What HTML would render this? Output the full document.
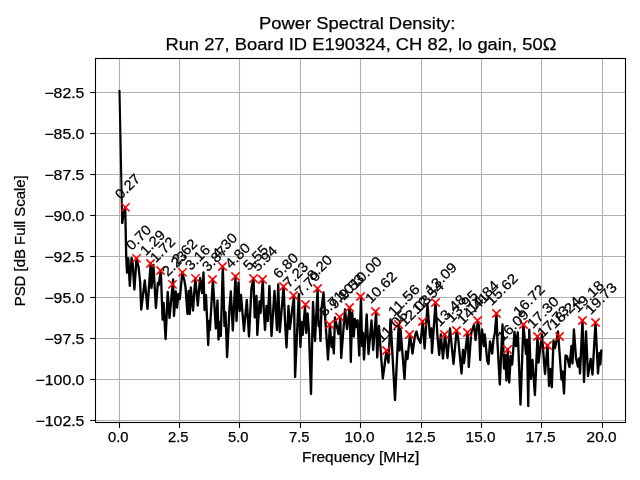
<!DOCTYPE html>
<html><head><meta charset="utf-8"><title>PSD</title>
<style>
html,body{margin:0;padding:0;background:#fff;}
body{width:640px;height:480px;overflow:hidden;font-family:"Liberation Sans",sans-serif;}
svg{display:block;will-change:transform}
text{font-family:"Liberation Sans",sans-serif;fill:#000;stroke:#000;stroke-width:0.25px}
</style></head><body>
<svg width="640" height="480" viewBox="0 0 640 480">
<rect x="0" y="0" width="640" height="480" fill="#ffffff"/>

<g stroke="#b0b0b0" stroke-width="1.1" fill="none">
<line x1="119.5" y1="58.5" x2="119.5" y2="422.5"/>
<line x1="179.5" y1="58.5" x2="179.5" y2="422.5"/>
<line x1="239.5" y1="58.5" x2="239.5" y2="422.5"/>
<line x1="300.5" y1="58.5" x2="300.5" y2="422.5"/>
<line x1="360.5" y1="58.5" x2="360.5" y2="422.5"/>
<line x1="421.5" y1="58.5" x2="421.5" y2="422.5"/>
<line x1="481.5" y1="58.5" x2="481.5" y2="422.5"/>
<line x1="541.5" y1="58.5" x2="541.5" y2="422.5"/>
<line x1="602.5" y1="58.5" x2="602.5" y2="422.5"/>
<line x1="95.5" y1="92.5" x2="625.5" y2="92.5"/>
<line x1="95.5" y1="133.5" x2="625.5" y2="133.5"/>
<line x1="95.5" y1="174.5" x2="625.5" y2="174.5"/>
<line x1="95.5" y1="215.5" x2="625.5" y2="215.5"/>
<line x1="95.5" y1="256.5" x2="625.5" y2="256.5"/>
<line x1="95.5" y1="297.5" x2="625.5" y2="297.5"/>
<line x1="95.5" y1="338.5" x2="625.5" y2="338.5"/>
<line x1="95.5" y1="379.5" x2="625.5" y2="379.5"/>
<line x1="95.5" y1="420.5" x2="625.5" y2="420.5"/>
</g>
<clipPath id="c"><rect x="95.5" y="58.5" width="530.0" height="364.0"/></clipPath>
<polyline clip-path="url(#c)" points="119.50,91.00 122.20,222.60" fill="none" stroke="#000" stroke-width="2.1" stroke-linejoin="round" stroke-linecap="square"/>
<polyline clip-path="url(#c)" points="122.20,222.60 123.20,215.50 124.20,211.50 125.20,207.40 126.20,256.00 127.00,272.70 128.30,258.30 129.80,285.90 131.60,257.90 132.60,263.00 134.40,289.50 136.50,258.30 138.60,267.50 140.20,283.00 141.20,309.50 144.80,280.50 147.50,308.80 150.60,263.40 151.50,288.00 153.40,264.90 155.90,308.00 157.80,283.00 158.70,285.00 160.80,270.40 162.60,319.50 163.60,303.00 165.60,339.00 167.70,292.00 169.50,318.00 173.10,279.50 174.00,316.00 175.80,291.50 177.00,307.50 178.50,294.00 179.80,299.00 182.30,272.50 184.50,281.00 185.50,287.00 187.50,314.00 188.60,291.00 189.80,314.00 190.80,287.50 193.00,310.50 195.30,278.30 197.80,305.50 200.00,278.00 202.00,293.00 203.50,272.50 204.50,310.00 206.00,295.00 208.20,345.00 209.10,321.00 209.90,330.00 212.90,279.50 215.80,328.50 217.50,300.50 218.50,339.50 219.50,322.00 220.80,336.00 222.80,266.50 224.50,326.00 225.50,312.50 227.10,357.00 229.50,308.00 230.80,291.50 232.80,330.50 235.50,276.50 236.50,321.00 238.50,282.50 239.70,311.00 241.00,295.00 244.00,331.00 246.80,300.00 249.00,336.50 251.50,288.00 253.50,278.50 254.70,317.50 256.50,296.00 257.30,335.00 259.50,301.50 260.50,313.00 262.80,279.30 263.70,308.00 265.00,330.00 266.50,306.00 267.80,321.00 269.40,286.00 271.50,336.00 274.50,291.00 277.00,330.00 278.20,284.50 279.80,332.00 283.60,286.30 285.00,321.00 286.50,347.50 288.50,306.00 289.80,329.00 294.00,295.50 295.10,377.00 298.80,294.00 300.40,347.00 301.50,322.00 302.70,335.00 305.00,306.50 306.20,333.00 307.60,313.50 309.00,333.00 311.00,394.00 313.00,302.00 315.00,341.00 317.60,288.50 318.60,326.00 319.50,322.00 320.50,341.00 321.40,310.00 323.50,292.50 328.00,359.50 329.90,324.50 331.50,347.00 332.80,337.50 333.80,353.50 335.00,317.50 338.50,334.00 340.30,317.00 341.20,358.00 345.00,309.50 347.00,329.00 349.70,307.20 350.80,362.00 352.20,312.50 353.80,336.50 355.00,319.00 356.40,327.00 357.60,320.50 359.20,355.50 361.00,296.50 362.00,346.00 363.00,333.00 364.00,359.50 366.70,314.50 368.50,354.00 371.50,320.50 373.20,350.00 376.10,311.50 377.20,357.50 379.00,326.00 380.80,352.00 382.80,378.50 386.40,351.50 388.50,362.50 390.50,319.50 395.00,400.00 398.70,324.50 399.60,350.50 400.50,329.00 404.50,379.00 406.00,351.50 407.50,359.00 410.00,334.50 412.50,353.50 414.80,336.50 416.50,331.50 418.00,338.00 420.50,343.00 422.80,321.50 424.60,348.50 427.50,304.50 430.00,337.00 431.30,328.50 432.00,353.00 435.50,302.50 437.30,334.00 439.20,355.00 440.80,334.50 443.00,358.50 445.00,334.50 447.50,358.00 450.00,328.50 453.50,364.00 456.60,330.50 458.20,338.50 461.50,373.50 463.00,350.00 464.00,363.00 467.60,332.50 468.80,367.00 471.20,333.00 474.00,324.50 475.50,340.00 477.80,322.00 479.00,326.00 480.20,360.00 482.00,329.50 484.00,346.00 484.80,334.50 487.20,360.50 488.50,364.00 490.00,341.50 492.20,353.50 493.40,340.00 494.90,333.00 496.50,313.50 497.40,341.00 499.80,384.50 502.50,324.50 504.00,368.50 505.20,355.00 506.50,380.50 507.80,349.50 509.20,382.50 510.80,356.00 512.20,364.50 514.50,332.00 516.00,346.00 517.80,332.30 520.50,404.60 523.40,324.40 526.00,354.00 527.00,340.00 528.25,406.00 529.25,329.70 530.90,379.00 532.50,360.00 534.90,395.00 537.50,336.40 538.50,362.50 541.90,334.40 545.00,374.00 547.50,345.50 549.00,386.00 550.50,369.00 551.80,387.20 553.50,340.50 555.00,348.00 556.50,341.00 558.00,331.50 561.50,379.50 562.50,371.50 564.00,393.50 565.50,355.50 567.00,356.00 569.50,367.00 571.40,346.00 572.50,363.50 573.90,329.50 576.00,358.00 577.90,366.50 579.00,358.50 580.00,373.50 582.50,320.50 584.00,382.00 586.00,331.50 588.00,376.00 590.70,359.00 592.50,374.50 595.50,322.20 598.00,373.50 599.50,353.00 600.30,364.50 601.30,350.50" fill="none" stroke="#000" stroke-width="2.35" stroke-linejoin="round" stroke-linecap="round"/>
<g stroke="#ff0000" stroke-width="1.55" fill="none" stroke-linecap="butt">
<path d="M121.33 203.23L129.67 211.57M121.33 211.57L129.67 203.23"/>
<path d="M132.33 254.23L140.67 262.57M132.33 262.57L140.67 254.23"/>
<path d="M146.33 259.33L154.67 267.67M146.33 267.67L154.67 259.33"/>
<path d="M156.33 266.33L164.67 274.67M156.33 274.67L164.67 266.33"/>
<path d="M168.33 280.23L176.67 288.57M168.33 288.57L176.67 280.23"/>
<path d="M178.33 268.23L186.67 276.57M178.33 276.57L186.67 268.23"/>
<path d="M191.33 274.23L199.67 282.57M191.33 282.57L199.67 274.23"/>
<path d="M208.33 275.33L216.67 283.67M208.33 283.67L216.67 275.33"/>
<path d="M218.33 262.33L226.67 270.67M218.33 270.67L226.67 262.33"/>
<path d="M231.33 272.33L239.67 280.67M231.33 280.67L239.67 272.33"/>
<path d="M249.33 274.33L257.67 282.67M249.33 282.67L257.67 274.33"/>
<path d="M258.33 275.33L266.67 283.67M258.33 283.67L266.67 275.33"/>
<path d="M279.33 282.33L287.67 290.67M279.33 290.67L287.67 282.33"/>
<path d="M289.33 291.33L297.67 299.67M289.33 299.67L297.67 291.33"/>
<path d="M301.33 300.33L309.67 308.67M301.33 308.67L309.67 300.33"/>
<path d="M313.33 284.33L321.67 292.67M313.33 292.67L321.67 284.33"/>
<path d="M325.33 320.33L333.67 328.67M325.33 328.67L333.67 320.33"/>
<path d="M335.33 312.83L343.67 321.17M335.33 321.17L343.67 312.83"/>
<path d="M345.33 303.33L353.67 311.67M345.33 311.67L353.67 303.33"/>
<path d="M356.33 292.33L364.67 300.67M356.33 300.67L364.67 292.33"/>
<path d="M371.33 307.33L379.67 315.67M371.33 315.67L379.67 307.33"/>
<path d="M382.33 346.33L390.67 354.67M382.33 354.67L390.67 346.33"/>
<path d="M394.33 320.33L402.67 328.67M394.33 328.67L402.67 320.33"/>
<path d="M405.33 330.33L413.67 338.67M405.33 338.67L413.67 330.33"/>
<path d="M418.33 317.33L426.67 325.67M418.33 325.67L426.67 317.33"/>
<path d="M431.33 298.33L439.67 306.67M431.33 306.67L439.67 298.33"/>
<path d="M440.33 330.33L448.67 338.67M440.33 338.67L448.67 330.33"/>
<path d="M452.33 326.33L460.67 334.67M452.33 334.67L460.67 326.33"/>
<path d="M463.33 328.33L471.67 336.67M463.33 336.67L471.67 328.33"/>
<path d="M473.33 316.33L481.67 324.67M473.33 324.67L481.67 316.33"/>
<path d="M492.33 309.33L500.67 317.67M492.33 317.67L500.67 309.33"/>
<path d="M503.33 345.33L511.67 353.67M503.33 353.67L511.67 345.33"/>
<path d="M519.33 320.33L527.67 328.67M519.33 328.67L527.67 320.33"/>
<path d="M533.33 332.33L541.67 340.67M533.33 340.67L541.67 332.33"/>
<path d="M543.33 341.33L551.67 349.67M543.33 349.67L551.67 341.33"/>
<path d="M555.33 332.33L563.67 340.67M555.33 340.67L563.67 332.33"/>
<path d="M578.33 316.33L586.67 324.67M578.33 324.67L586.67 316.33"/>
<path d="M591.33 318.33L599.67 326.67M591.33 326.67L599.67 318.33"/>
</g>
<g font-size="13.9px">
<text transform="translate(120.70 200.10) rotate(-45)" textLength="29.0" lengthAdjust="spacingAndGlyphs">0.27</text>
<text transform="translate(131.70 251.10) rotate(-45)" textLength="29.0" lengthAdjust="spacingAndGlyphs">0.70</text>
<text transform="translate(145.70 256.20) rotate(-45)" textLength="29.0" lengthAdjust="spacingAndGlyphs">1.29</text>
<text transform="translate(155.70 263.20) rotate(-45)" textLength="29.0" lengthAdjust="spacingAndGlyphs">1.72</text>
<text transform="translate(167.70 277.10) rotate(-45)" textLength="29.0" lengthAdjust="spacingAndGlyphs">2.23</text>
<text transform="translate(177.70 265.10) rotate(-45)" textLength="29.0" lengthAdjust="spacingAndGlyphs">2.62</text>
<text transform="translate(190.70 271.10) rotate(-45)" textLength="29.0" lengthAdjust="spacingAndGlyphs">3.16</text>
<text transform="translate(207.70 272.20) rotate(-45)" textLength="29.0" lengthAdjust="spacingAndGlyphs">3.87</text>
<text transform="translate(217.70 259.20) rotate(-45)" textLength="29.0" lengthAdjust="spacingAndGlyphs">4.30</text>
<text transform="translate(230.70 269.20) rotate(-45)" textLength="29.0" lengthAdjust="spacingAndGlyphs">4.80</text>
<text transform="translate(248.70 271.20) rotate(-45)" textLength="29.0" lengthAdjust="spacingAndGlyphs">5.55</text>
<text transform="translate(257.70 272.20) rotate(-45)" textLength="29.0" lengthAdjust="spacingAndGlyphs">5.94</text>
<text transform="translate(278.70 279.20) rotate(-45)" textLength="29.0" lengthAdjust="spacingAndGlyphs">6.80</text>
<text transform="translate(288.70 288.20) rotate(-45)" textLength="29.0" lengthAdjust="spacingAndGlyphs">7.23</text>
<text transform="translate(300.70 297.20) rotate(-45)" textLength="29.0" lengthAdjust="spacingAndGlyphs">7.70</text>
<text transform="translate(312.70 281.20) rotate(-45)" textLength="29.0" lengthAdjust="spacingAndGlyphs">8.20</text>
<text transform="translate(324.70 317.20) rotate(-45)" textLength="29.0" lengthAdjust="spacingAndGlyphs">8.71</text>
<text transform="translate(334.70 309.70) rotate(-45)" textLength="29.0" lengthAdjust="spacingAndGlyphs">9.10</text>
<text transform="translate(344.70 300.20) rotate(-45)" textLength="29.0" lengthAdjust="spacingAndGlyphs">9.53</text>
<text transform="translate(355.70 289.20) rotate(-45)" textLength="38.3" lengthAdjust="spacingAndGlyphs">10.00</text>
<text transform="translate(370.70 304.20) rotate(-45)" textLength="38.3" lengthAdjust="spacingAndGlyphs">10.62</text>
<text transform="translate(381.70 343.20) rotate(-45)" textLength="38.3" lengthAdjust="spacingAndGlyphs">11.05</text>
<text transform="translate(393.70 317.20) rotate(-45)" textLength="38.3" lengthAdjust="spacingAndGlyphs">11.56</text>
<text transform="translate(404.70 327.20) rotate(-45)" textLength="38.3" lengthAdjust="spacingAndGlyphs">12.03</text>
<text transform="translate(417.70 314.20) rotate(-45)" textLength="38.3" lengthAdjust="spacingAndGlyphs">12.54</text>
<text transform="translate(430.70 295.20) rotate(-45)" textLength="38.3" lengthAdjust="spacingAndGlyphs">13.09</text>
<text transform="translate(439.70 327.20) rotate(-45)" textLength="38.3" lengthAdjust="spacingAndGlyphs">13.48</text>
<text transform="translate(451.70 323.20) rotate(-45)" textLength="38.3" lengthAdjust="spacingAndGlyphs">13.95</text>
<text transform="translate(462.70 325.20) rotate(-45)" textLength="38.3" lengthAdjust="spacingAndGlyphs">14.41</text>
<text transform="translate(472.70 313.20) rotate(-45)" textLength="38.3" lengthAdjust="spacingAndGlyphs">14.84</text>
<text transform="translate(491.70 306.20) rotate(-45)" textLength="38.3" lengthAdjust="spacingAndGlyphs">15.62</text>
<text transform="translate(502.70 342.20) rotate(-45)" textLength="38.3" lengthAdjust="spacingAndGlyphs">16.09</text>
<text transform="translate(518.70 317.20) rotate(-45)" textLength="38.3" lengthAdjust="spacingAndGlyphs">16.72</text>
<text transform="translate(532.70 329.20) rotate(-45)" textLength="38.3" lengthAdjust="spacingAndGlyphs">17.30</text>
<text transform="translate(542.70 338.20) rotate(-45)" textLength="38.3" lengthAdjust="spacingAndGlyphs">17.73</text>
<text transform="translate(554.70 329.20) rotate(-45)" textLength="38.3" lengthAdjust="spacingAndGlyphs">18.24</text>
<text transform="translate(577.70 313.20) rotate(-45)" textLength="38.3" lengthAdjust="spacingAndGlyphs">19.18</text>
<text transform="translate(590.70 315.20) rotate(-45)" textLength="38.3" lengthAdjust="spacingAndGlyphs">19.73</text>
</g>
<rect x="95.5" y="58.5" width="530.0" height="364.0" fill="none" stroke="#000" stroke-width="1.1"/>
<g stroke="#000" stroke-width="1.1">
<line x1="119.5" y1="422.5" x2="119.5" y2="427.9"/>
<line x1="179.5" y1="422.5" x2="179.5" y2="427.9"/>
<line x1="239.5" y1="422.5" x2="239.5" y2="427.9"/>
<line x1="300.5" y1="422.5" x2="300.5" y2="427.9"/>
<line x1="360.5" y1="422.5" x2="360.5" y2="427.9"/>
<line x1="421.5" y1="422.5" x2="421.5" y2="427.9"/>
<line x1="481.5" y1="422.5" x2="481.5" y2="427.9"/>
<line x1="541.5" y1="422.5" x2="541.5" y2="427.9"/>
<line x1="602.5" y1="422.5" x2="602.5" y2="427.9"/>
<line x1="95.5" y1="92.5" x2="90.1" y2="92.5"/>
<line x1="95.5" y1="133.5" x2="90.1" y2="133.5"/>
<line x1="95.5" y1="174.5" x2="90.1" y2="174.5"/>
<line x1="95.5" y1="215.5" x2="90.1" y2="215.5"/>
<line x1="95.5" y1="256.5" x2="90.1" y2="256.5"/>
<line x1="95.5" y1="297.5" x2="90.1" y2="297.5"/>
<line x1="95.5" y1="338.5" x2="90.1" y2="338.5"/>
<line x1="95.5" y1="379.5" x2="90.1" y2="379.5"/>
<line x1="95.5" y1="420.5" x2="90.1" y2="420.5"/>
</g>
<g font-size="14.2px">
<text x="108.05" y="442.3" textLength="20.5" lengthAdjust="spacingAndGlyphs">0.0</text>
<text x="168.05" y="442.3" textLength="20.5" lengthAdjust="spacingAndGlyphs">2.5</text>
<text x="228.05" y="442.3" textLength="20.5" lengthAdjust="spacingAndGlyphs">5.0</text>
<text x="289.05" y="442.3" textLength="20.5" lengthAdjust="spacingAndGlyphs">7.5</text>
<text x="344.60" y="442.3" textLength="30.0" lengthAdjust="spacingAndGlyphs">10.0</text>
<text x="405.60" y="442.3" textLength="30.0" lengthAdjust="spacingAndGlyphs">12.5</text>
<text x="465.60" y="442.3" textLength="30.0" lengthAdjust="spacingAndGlyphs">15.0</text>
<text x="525.60" y="442.3" textLength="30.0" lengthAdjust="spacingAndGlyphs">17.5</text>
<text x="586.60" y="442.3" textLength="30.0" lengthAdjust="spacingAndGlyphs">20.0</text>
<text x="44.40" y="97.80" textLength="40.0" lengthAdjust="spacingAndGlyphs">−82.5</text>
<text x="44.40" y="138.80" textLength="40.0" lengthAdjust="spacingAndGlyphs">−85.0</text>
<text x="44.40" y="179.80" textLength="40.0" lengthAdjust="spacingAndGlyphs">−87.5</text>
<text x="44.40" y="220.80" textLength="40.0" lengthAdjust="spacingAndGlyphs">−90.0</text>
<text x="44.40" y="261.80" textLength="40.0" lengthAdjust="spacingAndGlyphs">−92.5</text>
<text x="44.40" y="302.80" textLength="40.0" lengthAdjust="spacingAndGlyphs">−95.0</text>
<text x="44.40" y="343.80" textLength="40.0" lengthAdjust="spacingAndGlyphs">−97.5</text>
<text x="35.60" y="384.80" textLength="48.8" lengthAdjust="spacingAndGlyphs">−100.0</text>
<text x="35.60" y="425.80" textLength="48.8" lengthAdjust="spacingAndGlyphs">−102.5</text>
</g>
<text x="302" y="462.2" font-size="14.2px" textLength="117.2" lengthAdjust="spacingAndGlyphs">Frequency [MHz]</text>
<text transform="translate(24.8 306.3) rotate(-90)" font-size="14.2px" textLength="131" lengthAdjust="spacingAndGlyphs">PSD [dB Full Scale]</text>
<text x="259" y="29" font-size="17.4px" textLength="196.3" lengthAdjust="spacingAndGlyphs">Power Spectral Density:</text>
<text x="165.4" y="49.7" font-size="17.4px" textLength="391" lengthAdjust="spacingAndGlyphs">Run 27, Board ID E190324, CH 82, lo gain, 50Ω</text>
</svg></body></html>
